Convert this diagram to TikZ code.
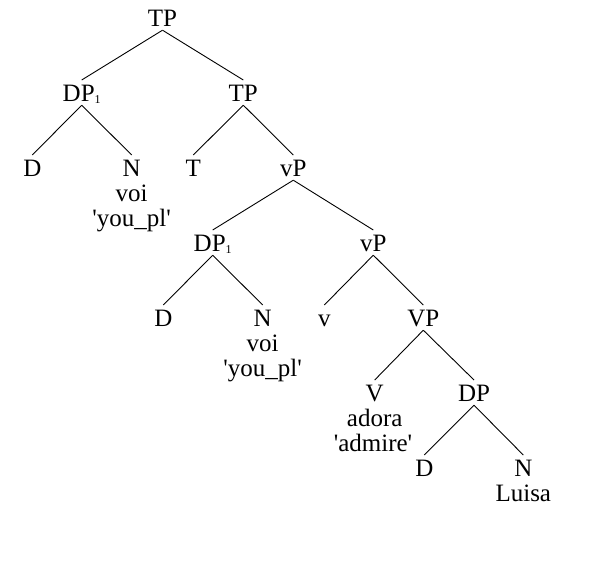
\documentclass[tikz,border=0pt]{standalone}
\usepackage{fontspec}
\setmainfont{Liberation Serif}
\usetikzlibrary{calc}
\newcommand\idxone{\raisebox{-2pt}{\fontsize{12}{12}\selectfont 1}}
\newcommand\q{\textquotesingle}
\newcommand\treeedge[2]{\draw[edge] ($(#1.base)+(0,3.5)$) -- ($(#2.base)+(0,-21.7)$);}
\begin{document}
\begin{tikzpicture}[x=1pt,y=-1pt,
  lab/.style={font=\fontsize{25}{25}\selectfont, inner sep=0pt, anchor=base},
  edge/.style={line width=0.9pt}]
\useasboundingbox[fill=white] (0,0) rectangle (612,570);
% level 0
\node[lab] (tp) at (162.5,26.7) {TP};
% level 1
\node[lab] (dpa) at (81.7,101.7) {DP\idxone};
\node[lab] (tpb) at (243.3,101.7) {TP};
% level 2
\node[lab] (da) at (32.3,176.7) {D};
\node[lab] (na) at (131.7,176.7) {N};
\node[lab] (voia) at (131.7,201.7) {voi};
\node[lab] (gla) at (131.7,226.7) {\q you\_pl\q};
\node[lab] (t) at (193.3,176.7) {T};
\node[lab] (vpa) at (293.3,176.7) {vP};
% level 3
\node[lab] (dpb) at (212.7,251.7) {DP\idxone};
\node[lab] (vpb) at (373.3,251.7) {vP};
% level 4
\node[lab] (db) at (163.3,326.7) {D};
\node[lab] (nb) at (262.7,326.7) {N};
\node[lab] (voib) at (262.7,351.7) {voi};
\node[lab] (glb) at (262.7,376.7) {\q you\_pl\q};
\node[lab] (v) at (324.3,326.7) {v};
\node[lab] (vp) at (423.3,326.7) {VP};
% level 5
\node[lab] (vv) at (374.7,401.7) {V};
\node[lab] (adora) at (374.7,426.7) {adora};
\node[lab] (admire) at (373,451.7) {\q admire\q};
\node[lab] (dpc) at (474,401.7) {DP};
% level 6
\node[lab] (dc) at (424.3,476.7) {D};
\node[lab] (nc) at (523.3,476.7) {N};
\node[lab] (luisa) at (523.3,501.7) {Luisa};
% edges
\treeedge{tp}{dpa}
\treeedge{tp}{tpb}
\treeedge{dpa}{da}
\treeedge{dpa}{na}
\treeedge{tpb}{t}
\treeedge{tpb}{vpa}
\treeedge{vpa}{dpb}
\treeedge{vpa}{vpb}
\treeedge{dpb}{db}
\treeedge{dpb}{nb}
\treeedge{vpb}{v}
\treeedge{vpb}{vp}
\treeedge{vp}{vv}
\treeedge{vp}{dpc}
\treeedge{dpc}{dc}
\treeedge{dpc}{nc}
\end{tikzpicture}
\end{document}
